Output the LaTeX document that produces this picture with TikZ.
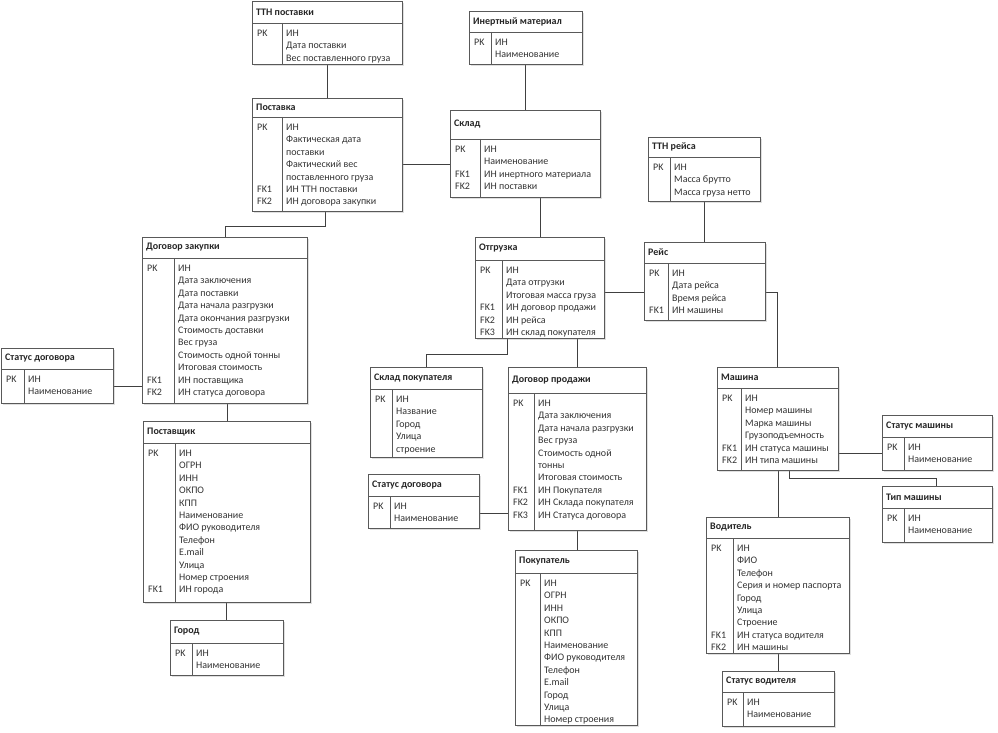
\documentclass[tikz,border=0pt]{standalone}
\usepackage{fontspec}
\setmainfont{Carlito}
\usetikzlibrary{shadows}
\tikzset{
 ebox/.style={draw=black!65, line width=0.7pt, fill=white, inner sep=0pt,
   drop shadow={shadow xshift=1.2pt, shadow yshift=-1.2pt, opacity=0.25}},
 eline/.style={draw=black!65, line width=0.7pt},
 etitle/.style={anchor=west, inner sep=0pt, font=\fontsize{10}{12.4}\selectfont\bfseries, text=black!85},
 ecol/.style={anchor=base west, inner sep=0pt, font=\fontsize{10}{12.4}\selectfont, text=black!80},
 conn/.style={draw=black!75, line width=0.8pt},
}
\def\entparse#1/#2/#3/#4/#5/#6\relax{\def\eA{#1}\def\eB{#2}\def\eC{#3}\def\eD{#4}\def\eE{#5}\def\eF{#6}}
\newcommand\ent[5]{%
  \entparse#2\relax
  \pgfmathsetmacro\eW{\eC-\eA}\pgfmathsetmacro\eH{\eD-\eB}%
  \node[ebox, minimum width=\eW pt, minimum height=\eH pt, anchor=north west] (#1) at (\eA,\eB) {};
  \draw[eline] (\eA,\eE) -- (\eC,\eE);
  \draw[eline] (\eF,\eE) -- (\eF,\eD);
  \pgfmathsetmacro\eT{(\eB+\eE)/2}%
  \node[etitle] (#1-t) at (\eA+4,\eT) {#3};
  \pgfmathsetmacro\eR{\eE+13.5}%
  \node[ecol] (#1-k) at (\eA+5,\eR) {\begin{tabular}[t]{@{}l@{}}#4\end{tabular}};
  \node[ecol] (#1-a) at (\eF+4,\eR) {\begin{tabular}[t]{@{}l@{}}#5\end{tabular}};
}
\begin{document}
\begin{tikzpicture}[x=1pt,y=-1pt]
\useasboundingbox (0,0) rectangle (998,733);

% connectors first (drawn below boxes)
\draw[conn] (327,64) -- (327,98);
\draw[conn] (402,164) -- (450,164);
\draw[conn] (525.5,64) -- (525.5,110);
\draw[conn] (540,197) -- (540,237);
\draw[conn] (704,201) -- (704,242);
\draw[conn] (325,211) -- (325,226) -- (225,226) -- (225,237);
\draw[conn] (113,386) -- (142,386);
\draw[conn] (227,403) -- (227,421);
\draw[conn] (226.5,602) -- (226.5,620);
\draw[conn] (604,292) -- (644,292);
\draw[conn] (765,292) -- (777.5,292) -- (777.5,367);
\draw[conn] (507,338) -- (507,354) -- (426,354) -- (426,367);
\draw[conn] (577,338) -- (577,367);
\draw[conn] (479,513) -- (508,513);
\draw[conn] (577,530) -- (577,550);
\draw[conn] (838,453) -- (882,453);
\draw[conn] (789,470) -- (789,478) -- (936,478) -- (936,486);
\draw[conn] (778,470) -- (778,517);
\draw[conn] (778,653) -- (778,671);

\ent{tthp}{252/1/402/64/23/282}{ТТН поставки}{PK}{ИН\\Дата поставки\\Вес поставленного груза}
\ent{post}{252/98/402/211/117/282}{Поставка}{PK\\ \\ \\ \\ \\FK1\\FK2}{ИН\\Фактическая дата\\поставки\\Фактический вес\\поставленного груза\\ИН ТТН поставки\\ИН договора закупки}
\ent{inert}{469/11/582/64/32/491}{Инертный материал}{PK}{ИН\\Наименование}
\ent{sklad}{450/110/600/197/139/480}{Склад}{PK\\ \\FK1\\FK2}{ИН\\Наименование\\ИН инертного материала\\ИН поставки}
\ent{tthr}{648/137/760/201/157/670}{ТТН рейса}{PK}{ИН\\Масса брутто\\Масса груза нетто}
\ent{otgr}{475/237/604/338/260/502}{Отгрузка}{PK\\ \\ \\FK1\\FK2\\FK3}{ИН\\Дата отгрузки\\Итоговая масса груза\\ИН договор продажи\\ИН рейса\\ИН склад покупателя}
\ent{reis}{644/242/765/320/263/668}{Рейс}{PK\\ \\ \\FK1}{ИН\\Дата рейса\\Время рейса\\ИН машины}
\ent{dz}{142/237/307/403/258/174}{Договор закупки}{PK\\ \\ \\ \\ \\ \\ \\ \\ \\FK1\\FK2}{ИН\\Дата заключения\\Дата поставки\\Дата начала разгрузки\\Дата окончания разгрузки\\Стоимость доставки\\Вес груза\\Стоимость одной тонны\\Итоговая стоимость\\ИН поставщика\\ИН статуса договора}
\ent{sdl}{1/348/113/403/369/24}{Статус договора}{PK}{ИН\\Наименование}
\ent{postav}{143/421/310/602/443/175}{Поставщик}{PK\\ \\ \\ \\ \\ \\ \\ \\ \\ \\ \\FK1}{ИН\\ОГРН\\ИНН\\ОКПО\\КПП\\Наименование\\ФИО руководителя\\Телефон\\E.mail\\Улица\\Номер строения\\ИН города}
\ent{gorod}{170/620/283/675/643/192}{Город}{PK}{ИН\\Наименование}
\ent{skp}{370/367/482/457/389/392}{Склад покупателя}{PK}{ИН\\Название\\Город\\Улица\\строение}
\ent{sdm}{368/474/479/528/496/390}{Статус договора}{PK}{ИН\\Наименование}
\ent{dp}{508/367/646/530/393/534}{Договор продажи}{PK\\ \\ \\ \\ \\ \\ \\FK1\\FK2\\FK3}{ИН\\Дата заключения\\Дата начала разгрузки\\Вес груза\\Стоимость одной\\тонны\\Итоговая стоимость\\ИН Покупателя\\ИН Склада покупателя\\ИН Статуса договора}
\ent{pok}{515/550/637/725/573/540}{Покупатель}{PK}{ИН\\ОГРН\\ИНН\\ОКПО\\КПП\\Наименование\\ФИО руководителя\\Телефон\\E.mail\\Город\\Улица\\Номер строения}
\ent{mash}{717/367/838/470/388/741}{Машина}{PK\\ \\ \\ \\FK1\\FK2}{ИН\\Номер машины\\Марка машины\\Грузоподъемность\\ИН статуса машины\\ИН типа машины}
\ent{sm}{882/415/992/470/437/904}{Статус машины}{PK}{ИН\\Наименование}
\ent{tm}{882/486/992/542/508/904}{Тип машины}{PK}{ИН\\Наименование}
\ent{vod}{706/517/849/653/538/733}{Водитель}{PK\\ \\ \\ \\ \\ \\ \\FK1\\FK2}{ИН\\ФИО\\Телефон\\Серия и номер паспорта\\Город\\Улица\\Строение\\ИН статуса водителя\\ИН машины}
\ent{sv}{722/671/834/726/692/743}{Статус водителя}{PK}{ИН\\Наименование}
\end{tikzpicture}
\end{document}
